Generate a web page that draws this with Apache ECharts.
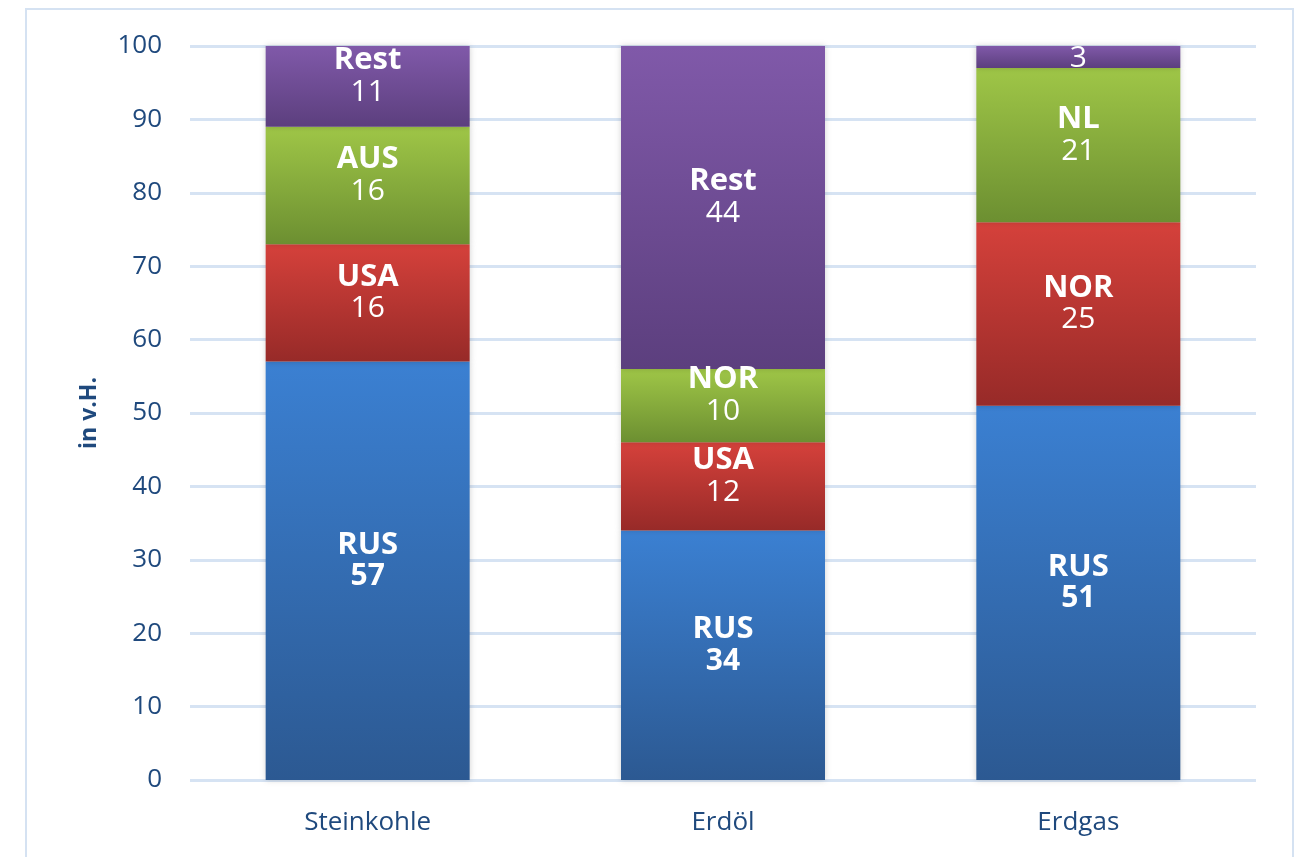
<meta charset="utf-8" />
<style>html, body { margin: 0; padding: 0; }</style>
<div id="main" style="width:1304px;height:857px;"></div>
<script src="https://cdn.jsdelivr.net/npm/echarts@6/dist/echarts.min.js"></script>
<script type="text/javascript">
// categories and stacked segments (bottom to top)
var categories = ['Steinkohle', 'Erdöl', 'Erdgas'];
var seg1Values = [57, 34, 51];
var seg1Names = ['RUS', 'RUS', 'RUS'];
var seg2Values = [16, 12, 25];
var seg2Names = ['USA', 'USA', 'NOR'];
var seg3Values = [16, 10, 21];
var seg3Names = ['AUS', 'NOR', 'NL'];
var seg4Values = [11, 44, 3];
var seg4Names = ['Rest', 'Rest', ''];
var yTicks = [0, 10, 20, 30, 40, 50, 60, 70, 80, 90, 100];

var textColor = '#1F497D';
var fontFam = '"Open Sans", sans-serif';

function grad(top, bottom) {
    return new echarts.graphic.LinearGradient(0, 0, 0, 1, [
        { offset: 0, color: top },
        { offset: 1, color: bottom }
    ]);
}

function makeSeries(values, names, top, bottom, boldValue) {
    return {
        type: 'bar',
        stack: 'total',
        barWidth: 204,
        data: values.map(function (v, i) {
            return {
                value: v,
                label: { offset: names[i] ? [0, -10] : [0, 1] }
            };
        }),
        itemStyle: {
            color: grad(top, bottom),
            shadowBlur: 6,
            shadowColor: 'rgba(0,0,0,0.18)'
        },
        label: {
            show: true,
            position: 'inside',
            fontFamily: fontFam,
            formatter: function (p) {
                var n = names[p.dataIndex];
                var v = (boldValue ? '{vb|' : '{v|') + p.value + '}';
                return n ? '{n|' + n + '}\n' + v : v;
            },
            rich: {
                n: { color: '#fff', fontSize: 31, fontWeight: 'bold', fontFamily: fontFam, lineHeight: 32 },
                v: { color: '#fff', fontSize: 30, fontFamily: fontFam, lineHeight: 32 },
                vb: { color: '#fff', fontSize: 30, fontWeight: 'bold', fontFamily: fontFam, lineHeight: 32 }
            }
        }
    };
}

var myChart = echarts.init(document.getElementById('main'));

var option = {
    animation: false,
    backgroundColor: '#fff',
    graphic: [{
        type: 'rect',
        shape: { x: 26, y: 9, width: 1267, height: 870 },
        style: { fill: 'none', stroke: '#d5e2f2', lineWidth: 2 },
        z: -1
    }],
    grid: { left: 190, right: 48, top: 46, bottom: 77 },
    xAxis: {
        type: 'category',
        data: categories,
        axisLine: { show: false },
        axisTick: { show: false },
        axisLabel: { color: textColor, fontSize: 26, fontFamily: fontFam, margin: 30 }
    },
    yAxis: {
        type: 'value',
        min: 0,
        max: 100,
        interval: 10,
        name: 'in v.H.',
        nameLocation: 'middle',
        nameRotate: 90,
        nameGap: 89,
        nameTextStyle: { color: textColor, fontSize: 23, fontWeight: 'bold', fontFamily: fontFam },
        axisLine: { show: false },
        axisTick: { show: false },
        axisLabel: {
            color: textColor, fontSize: 26, fontFamily: fontFam, margin: 28,
            formatter: function (v) { return yTicks.indexOf(v) >= 0 ? v : ''; }
        },
        splitLine: { lineStyle: { color: '#d6e3f3', width: 3 } }
    },
    series: [
        makeSeries(seg1Values, seg1Names, '#3b80d2', '#2c5992', true),
        makeSeries(seg2Values, seg2Names, '#d5413b', '#972a28', false),
        makeSeries(seg3Values, seg3Names, '#9fc647', '#6c8f31', false),
        makeSeries(seg4Values, seg4Names, '#8059a9', '#5c3f7e', false)
    ]
};
myChart.setOption(option);
</script>
